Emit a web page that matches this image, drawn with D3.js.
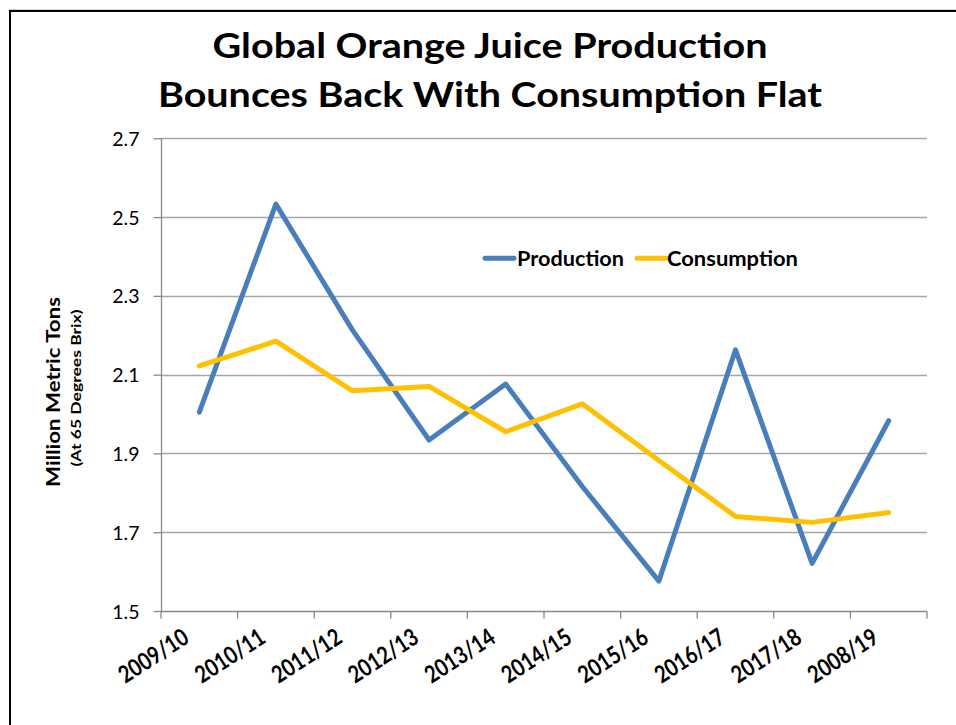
<!DOCTYPE html>
<html>
<head>
<meta charset="utf-8">
<script src="https://cdn.jsdelivr.net/npm/d3@7"></script>
<style>
  html, body { margin: 0; padding: 0; background: #fff; }
  svg { display: block; }
</style>
</head>
<body>
<svg id="chart" width="956" height="725"></svg>
<script>
const categories = ["2009/10","2010/11","2011/12","2012/13","2013/14","2014/15","2015/16","2016/17","2017/18","2008/19"];
const production = [2.005, 2.533, 2.213, 1.934, 2.076, 1.816, 1.576, 2.163, 1.621, 1.983];
const consumption = [2.122, 2.185, 2.059, 2.070, 1.955, 2.026, 1.882, 1.740, 1.725, 1.750];
const yTicks = [1.5, 1.7, 1.9, 2.1, 2.3, 2.5, 2.7];
const titleLines = ["Global Orange Juice Production", "Bounces Back With Consumption Flat"];
const seriesNames = ["Production", "Consumption"];
const seriesColors = ["#4a7ebb", "#ffc000"];

const svg = d3.select("#chart");
const FONT = "Lato, 'Open Sans', sans-serif";

const plot = { left: 161, right: 927, top: 138.3, bottom: 611 };
const x = d3.scaleBand().domain(categories).range([plot.left, plot.right]).paddingInner(0).paddingOuter(0);
const y = d3.scaleLinear().domain([1.5, 2.7]).range([plot.bottom, plot.top]);
const xc = d => x(d) + x.bandwidth() / 2;

// Border
svg.append("path")
  .attr("d", "M10,725 V11 H956")
  .attr("fill", "none").attr("stroke", "#000").attr("stroke-width", 2);
svg.append("line").attr("x1", 9).attr("x2", 956).attr("y1", 9.5).attr("y2", 9.5)
  .attr("stroke", "#d0d0d0").attr("stroke-width", 1);

// Title
const titleTargets = [555, 664];
const titleBase = [58, 106.7];
titleLines.forEach((t, i) => {
  svg.append("text")
    .attr("x", 490).attr("y", titleBase[i])
    .attr("text-anchor", "middle")
    .attr("font-family", FONT).attr("font-weight", 700).attr("font-size", 34.5)
    .attr("textLength", titleTargets[i]).attr("lengthAdjust", "spacingAndGlyphs")
    .attr("fill", "#000")
    .text(t);
});

// Gridlines
svg.append("g").selectAll("line").data(yTicks.filter(v => v !== 1.5)).join("line")
  .attr("x1", plot.left).attr("x2", plot.right)
  .attr("y1", d => Math.round(y(d)) + 0.5).attr("y2", d => Math.round(y(d)) + 0.5)
  .attr("stroke", "#a6a6a6").attr("stroke-width", 1.3);

// Y axis
const yAxis = d3.axisLeft(y).tickValues(yTicks).tickFormat(d3.format(".1f")).tickSize(8).tickPadding(14);
const gy = svg.append("g").attr("transform", `translate(${plot.left + 0.5},0)`).call(yAxis);
gy.select(".domain").attr("stroke", "#888").attr("stroke-width", 1.3).attr("d", `M0,${plot.top}V${plot.bottom}`);
gy.selectAll(".tick line").attr("stroke", "#888").attr("stroke-width", 1.3);
gy.selectAll(".tick text")
  .attr("font-family", FONT).attr("font-size", 19.5).attr("fill", "#000")
  .attr("dy", "0.36em");

// X axis
const xAxis = d3.axisBottom(x).tickSize(0).tickFormat("");
const gx = svg.append("g").attr("transform", `translate(0,${Math.round(plot.bottom) + 0.5})`).call(xAxis);
gx.select(".domain").attr("stroke", "#888").attr("stroke-width", 1.3).attr("d", `M${plot.left},0H${plot.right}`);
gx.selectAll(".tick").remove();
// boundary tick marks
const boundaries = categories.map(c => x(c)).concat([plot.right]);
gx.selectAll("line.bt").data(boundaries).join("line").attr("class", "bt")
  .attr("x1", d => d).attr("x2", d => d).attr("y1", 0).attr("y2", 7)
  .attr("stroke", "#888").attr("stroke-width", 1.3);
// category labels
svg.append("g").selectAll("text").data(categories).join("text")
  .attr("transform", d => `translate(${xc(d) - 8.7},641.5) rotate(-33)`)
  .attr("text-anchor", "end")
  .attr("font-family", FONT).attr("font-weight", 700).attr("font-size", 24)
  .attr("textLength", 78).attr("lengthAdjust", "spacingAndGlyphs")
  .attr("fill", "#000")
  .text(d => d);

// Y axis title
svg.append("text")
  .attr("transform", "translate(60,392) rotate(-90)")
  .attr("text-anchor", "middle")
  .attr("font-family", FONT).attr("font-weight", 700).attr("font-size", 18)
  .attr("textLength", 190).attr("lengthAdjust", "spacingAndGlyphs")
  .text("Million Metric Tons");
svg.append("text")
  .attr("transform", "translate(81,388) rotate(-90)")
  .attr("text-anchor", "middle")
  .attr("font-family", FONT).attr("font-weight", 700).attr("font-size", 12.5)
  .attr("textLength", 157).attr("lengthAdjust", "spacingAndGlyphs")
  .text("(At 65 Degrees Brix)");

// Lines
const line = d3.line().x((d, i) => xc(categories[i])).y(d => y(d));
[production, consumption].forEach((s, i) => {
  svg.append("path").datum(s)
    .attr("d", line)
    .attr("fill", "none")
    .attr("stroke", seriesColors[i])
    .attr("stroke-width", 5)
    .attr("stroke-linejoin", "round")
    .attr("stroke-linecap", "round");
});

// Legend
const legend = [
  { name: seriesNames[0], color: seriesColors[0], x0: 485, x1: 514, tx: 517, tw: 107 },
  { name: seriesNames[1], color: seriesColors[1], x0: 637, x1: 666, tx: 667, tw: 131 }
];
const lg = svg.append("g");
legend.forEach(l => {
  lg.append("line").attr("x1", l.x0).attr("x2", l.x1).attr("y1", 258.3).attr("y2", 258.3)
    .attr("stroke", l.color).attr("stroke-width", 5).attr("stroke-linecap", "round");
  lg.append("text").attr("x", l.tx).attr("y", 265.5)
    .attr("font-family", FONT).attr("font-weight", 700).attr("font-size", 20)
    .attr("textLength", l.tw).attr("lengthAdjust", "spacingAndGlyphs")
    .text(l.name);
});
</script>
</body>
</html>
